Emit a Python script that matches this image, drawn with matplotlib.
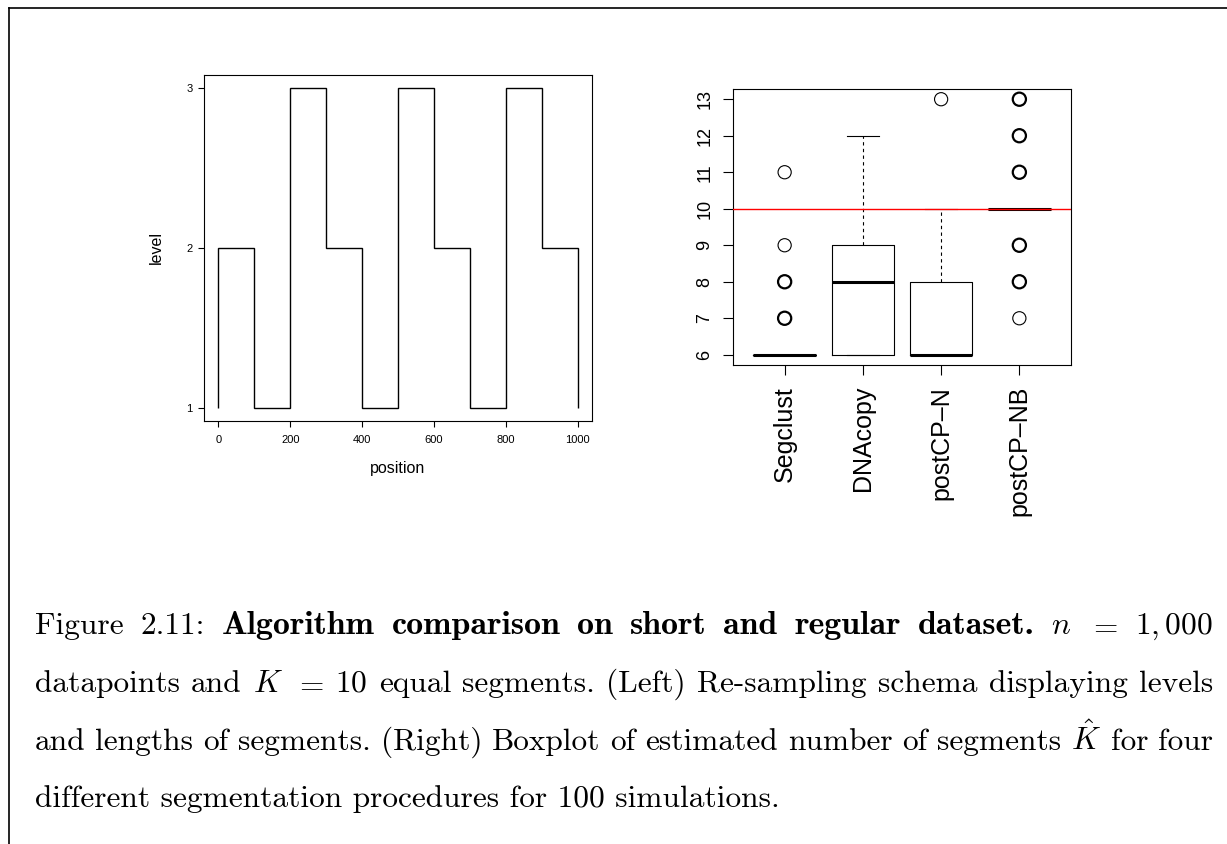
import matplotlib
matplotlib.use("Agg")
import matplotlib.pyplot as plt
from matplotlib.lines import Line2D

plt.rcParams['font.family'] = ['Liberation Sans', 'DejaVu Sans']
plt.rcParams['mathtext.fontset'] = 'cm'

# left panel: re-sampling schema (levels of the 10 segments)
edges = [0, 100, 200, 300, 400, 500, 600, 700, 800, 900, 1000]
levels = [2, 1, 3, 2, 1, 3, 2, 1, 3, 2]
pos_ticks = [0, 200, 400, 600, 800, 1000]
level_ticks = [1, 2, 3]

# right panel: boxplot of estimated number of segments
methods = ["Segclust", "DNAcopy", "postCP\u2013N", "postCP\u2013NB"]
k_med = [6, 8, 6, 10]
k_q1 = [6, 6, 6, 10]
k_q3 = [6, 9, 8, 10]
k_wlo = [6, 6, 6, 10]
k_whi = [6, 12, 10, 10]
k_out = [[7, 8, 9, 11], [], [13], [7, 8, 9, 11, 12, 13]]
k_out_n = [[3, 2, 1, 1], [], [1], [1, 2, 3, 4, 2, 3]]  # repeated values look bold
true_k = 10
k_ticks = [6, 7, 8, 9, 10, 11, 12, 13]

# caption, line by line: (text, style)
caption_lines = [
    [("Figure 2.11:", "rm"),
     ("Algorithm comparison on short and regular dataset.", "bf"),
     ("$n$ $=$ $1,000$", "math")],
    [("datapoints and", "rm"), ("$K$ $=$ $10$", "math"),
     ("equal segments. (Left) Re-sampling schema displaying levels", "rm")],
    [("and lengths of segments. (Right) Boxplot of estimated number of segments", "rm"),
     (r"$\hat{K}$", "math"), ("for four", "rm")],
    [("different segmentation procedures for 100 simulations.", "rm")],
]

W, H = 1227, 844
fig = plt.figure(figsize=(W / 100, H / 100), dpi=100)
fig.patch.set_facecolor('white')

# ---- left plot
ax1 = fig.add_axes([204 / W, 1 - 421 / H, 388 / W, 346 / H])
ax1.stairs(levels, edges, baseline=1, fill=False, color='black', lw=1.0)
ax1.set_xlim(-40, 1040)
ax1.set_ylim(0.92, 3.08)
ax1.set_xticks(pos_ticks)
ax1.set_yticks(level_ticks)
ax1.tick_params(labelsize=8, length=4.3, width=0.8, pad=6, direction='out')
ax1.tick_params(axis='y', pad=4)
ax1.set_xlabel("position", fontsize=11.5, labelpad=11)
ax1.set_ylabel("level", fontsize=11.5, labelpad=16)
for s in ax1.spines.values():
    s.set_linewidth(0.8)

# ---- right plot
ax2 = fig.add_axes([733 / W, 1 - 365 / H, 338 / W, 276 / H])
stats = []
for i in range(len(methods)):
    stats.append(dict(med=k_med[i], q1=k_q1[i], q3=k_q3[i],
                      whislo=k_wlo[i], whishi=k_whi[i], fliers=[]))
pos = list(range(1, len(methods) + 1))
ax2.bxp(stats, positions=pos, widths=0.8, capwidths=0.4, showfliers=False,
        boxprops=dict(color='black', lw=0.8),
        medianprops=dict(color='black', lw=2.2, solid_capstyle='butt'),
        whiskerprops=dict(color='black', lw=0.8, linestyle=(0, (3, 3))),
        capprops=dict(color='black', lw=0.8))
for i in range(len(methods)):
    for v, n in zip(k_out[i], k_out_n[i]):
        ax2.scatter([pos[i]], [v], s=90, facecolors='none', edgecolors='black',
                    linewidths=0.8 if n == 1 else 1.6, zorder=3)
ax2.axhline(true_k, color='red', lw=1.0, zorder=4)
ax2.set_xlim(0.34, 4.66)
ax2.set_ylim(5.72, 13.28)
ax2.set_yticks(k_ticks)
ax2.set_yticklabels([str(t) for t in k_ticks], rotation=90, va='center')
ax2.set_xticks(pos)
ax2.set_xticklabels(methods, rotation=90, fontsize=18)
ax2.tick_params(axis='y', labelsize=13, length=7.2, width=0.8, pad=7)
ax2.tick_params(axis='x', length=7.2, width=0.8, pad=8)
for s in ax2.spines.values():
    s.set_linewidth(0.8)

# ---- page frame
fig.add_artist(Line2D([9 / W, 1], [1 - 8 / H, 1 - 8 / H], transform=fig.transFigure,
                      color='black', lw=1.2))
fig.add_artist(Line2D([9 / W, 9 / W], [0, 1 - 8 / H], transform=fig.transFigure,
                      color='black', lw=1.2))

# ---- caption (justified like LaTeX)
fs = 22.6
families = {"rm": ['cmr10', 'DejaVu Serif'], "bf": ['cmb10', 'DejaVu Serif'],
            "math": ['cmr10', 'DejaVu Serif']}
sizes = {"rm": fs, "bf": fs * 1.08, "math": fs}  # cmb10 is narrower than bold extended
baselines = [634, 692, 750, 807]
x_left, x_right = 35, 1213
renderer = fig.canvas.get_renderer()
for li, line in enumerate(caption_lines):
    yb = 1 - baselines[li] / H
    if li == len(caption_lines) - 1:
        fig.text(x_left / W, yb, line[0][0], fontsize=fs, family=families["rm"],
                 va='baseline', ha='left')
        continue
    words = []
    for txt, style in line:
        for w in txt.split(' '):
            t = fig.text(0, yb, w, fontsize=sizes[style], family=families[style],
                         va='baseline', ha='left')
            words.append(t)
    widths = [t.get_window_extent(renderer).width for t in words]
    gap = (x_right - x_left - sum(widths)) / (len(words) - 1)
    x = x_left
    for t, wd in zip(words, widths):
        t.set_x(x / W)
        x += wd + gap

fig.savefig("out.png", dpi=100)
